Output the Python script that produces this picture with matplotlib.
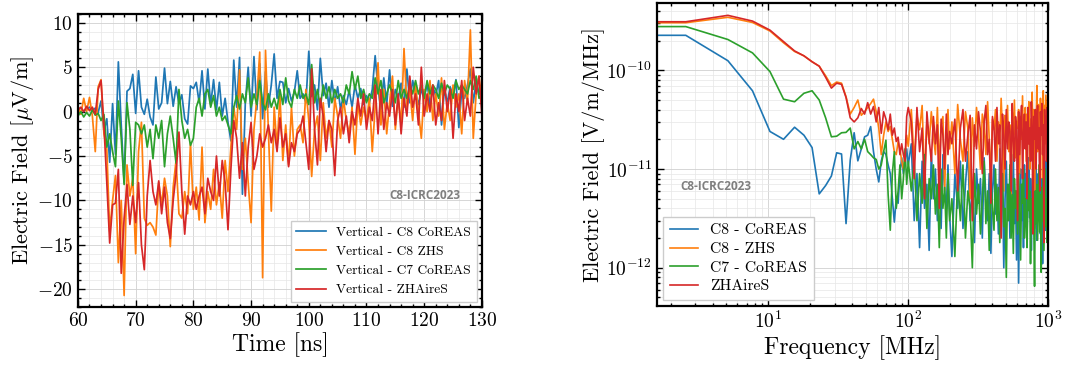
import numpy as np
import matplotlib
matplotlib.use("Agg")
import matplotlib.pyplot as plt
from matplotlib.ticker import MultipleLocator, LogLocator, NullFormatter

plt.rcParams.update({
    "font.family": "serif",
    "font.serif": ["cmr10"],
    "mathtext.fontset": "cm",
    "axes.formatter.use_mathtext": True,
    "axes.unicode_minus": True,
})

COLORS = ["#1f77b4", "#ff7f0e", "#2ca02c", "#d62728"]

# ---- time domain, 0.5 ns sampling from 60 to 130 ns ----
time_ns = np.arange(60.0, 130.01, 0.5)

vert_c8_coreas = [
    0.2, 0.4, 0.0, 0.3, 0.5, 0.1, 0.4, -0.1, 1.2, -2.2,
    -0.8, -5.7, 0.9, -4.8, 5.6, -1.5, -8.0, 2.3, 2.6, 4.2,
    -0.2, 4.6, 0.5, -0.3, 1.4, -0.6, -1.5, 3.9, 0.3, 1.0,
    4.9, 0.9, 3.4, 0.6, 2.8, 0.9, 1.9, -0.8, -1.4, 2.9,
    2.6, 3.3, 1.0, 4.6, 0.3, 4.8, 0.8, 3.6, 0.2, 3.3,
    -0.5, 1.5, -1.2, -3.3, 5.8, 0.5, 6.1, -9.3, 1.0, 5.0,
    -0.5, 6.2, 0.2, 5.4, -0.8, 4.5, 0.5, 3.0, 6.5, 1.5,
    3.4, 3.3, 1.0, 2.6, 1.2, 2.2, 4.6, 1.5, 2.0, 1.0,
    6.8, 1.7, 3.0, 0.2, 6.0, 1.8, 3.2, 0.5, 3.5, 1.0,
    2.8, 0.3, 1.8, 0.8, 2.4, 0.5, 3.0, 1.5, 2.6, 0.8,
    1.8, 1.0, 2.5, 6.3, 2.5, 0.3, 3.8, 0.8, 4.7, 0.6,
    2.5, 1.5, 3.2, 0.5, 4.8, 1.0, 3.5, 2.0, 0.8, 2.5,
    1.5, 3.2, 0.8, 2.8, 1.8, 3.5, -1.5, 2.5, 1.0, 2.8,
    1.8, 3.6, -1.8, 2.4, 1.5, 3.0, 4.8, 1.0, 3.4, 2.0,
    3.0,
]
vert_c8_zhs = [
    0.6, -0.3, 1.5, 0.0, 1.6, -0.5, -4.5, 2.8, 3.6, -2.5,
    -4.2, -13.5, -10.0, -7.2, -17.0, -10.0, -20.7, -6.0, -9.5, -7.5,
    -16.0, -4.5, -1.2, -12.0, -12.8, -12.5, -13.0, -13.9, -8.0, -10.5,
    -7.5, -9.5, -15.2, -8.5, -5.5, -11.5, -12.0, -9.0, -11.5, -3.5,
    -11.0, -8.5, -12.2, -4.0, -12.5, -9.0, -11.0, -6.5, -10.5, -8.0,
    -12.0, -5.5, -9.0, -4.0, 0.5, -2.0, 4.7, -6.5, -3.0, -8.0,
    -12.5, -2.0, 1.5, 6.7, -18.7, 6.9, -2.0, -11.2, 0.5, -4.0,
    1.8, -5.5, -1.5, -6.0, 0.5, -5.0, -2.0, -1.5, -3.5, 2.5,
    -1.0, -7.3, -2.0, -0.5, -5.5, 1.0, -3.0, -1.0, -4.0, 1.5,
    -0.5, -3.0, 1.5, -1.0, -2.5, 0.5, -4.8, 1.0, -1.5, 0.5,
    -1.0, 1.5, -4.5, 0.5, 5.5, -1.5, 2.5, -2.5, 1.0, 4.0,
    -2.0, 1.5, -1.5, 7.1, 0.5, 2.5, -1.0, 3.0, 0.0, -3.0,
    2.5, 0.0, 3.5, -1.0, 2.0, -0.5, 3.8, -2.0, 1.0, -1.0,
    3.0, 0.5, 2.0, -2.5, 3.5, 1.0, 9.2, -3.0, 2.0, 4.0,
    1.0,
]
vert_c7_coreas = [
    -0.5, 0.0, -0.6, -0.1, -0.5, 0.2, -0.4, -0.2, -1.0, -0.3,
    -4.0, -2.5, -4.5, -6.2, 1.2, -3.0, -8.2, 1.0, -2.0, -8.3,
    -1.2, -1.5, -2.5, -1.5, -4.0, -2.0, -5.3, -1.5, -3.0, -1.0,
    -6.2, -2.5, -0.5, -3.0, -5.8, 2.5, -1.0, -3.0, -2.0, -3.8,
    -3.0, 0.5, 1.5, -0.5, 2.0, 2.5, 0.5, 1.8, -0.5, 0.5,
    -1.0, -0.5, -1.5, -2.5, 0.5, 1.8, 0.3, 2.0, 1.0, 3.8,
    0.5, 2.0, 0.8, 3.5, 1.0, 0.2, 2.0, 0.5, 1.5, 0.3,
    2.5, 0.8, 3.8, 1.2, 0.5, 2.5, 1.5, 3.0, 1.5, 2.0,
    0.8, 5.3, 1.0, 2.5, 0.5, 3.0, 1.5, 2.8, 1.0, 2.5,
    1.5, 2.0, 1.0, 3.0, 2.0, 4.5, 2.5, 4.0, 1.5, 2.5,
    1.0, 2.0, 1.5, 3.8, 2.0, 3.5, 1.0, 2.0, 3.0, 2.0,
    1.0, 3.5, 1.5, 2.5, 1.5, 3.0, 2.0, 3.5, 2.0, 3.0,
    1.5, 3.5, 2.0, 3.0, 2.5, 1.5, 3.2, 2.0, 3.0, 2.5,
    1.5, 3.5, 2.5, 3.0, 2.5, 2.0, 3.5, 2.5, 4.0, 1.5,
    2.0,
]
vert_zhaires = [
    0.2, 0.5, 0.0, 0.6, 0.1, 0.5, -0.3, 2.5, 3.5, -1.5,
    -8.0, -14.8, -10.5, -10.3, -6.5, -18.2, -12.0, -8.2, -12.7, -9.5,
    -12.5, -8.0, -15.0, -17.8, -9.5, -5.5, -9.0, -10.5, -7.8, -11.5,
    -8.5, -12.5, -14.3, -10.0, -7.0, -2.3, -9.0, -13.8, -9.5, -10.5,
    -9.0, -11.0, -9.5, -8.5, -11.5, -7.5, -9.0, -10.0, -5.0, -9.5,
    -5.5, -8.0, -13.3, -6.5, -1.0, -3.0, -7.5, -3.5, -9.5, -4.0,
    -1.2, -6.5, -5.0, -2.5, -4.0, -3.0, -1.5, -3.5, -2.0, -4.5,
    -0.7, -4.0, -2.5, -6.2, -3.5, -4.5, -2.5, -2.0, -0.5, -3.5,
    -6.5, 4.8, -2.0, -6.0, 1.5, -0.5, -4.5, -1.0, -2.0, -7.2,
    -1.0, 0.5, -2.5, -0.5, -3.5, 0.0, -1.5, 1.5, -0.5, 2.0,
    -2.0, 0.5, -1.0, 3.0, -2.5, 2.5, -2.0, 1.0, -0.5, 2.5,
    -1.5, 2.0, -2.5, 1.5, -0.5, 4.0, 0.5, 2.0, -1.5, 5.0,
    -0.5, 2.0, 0.0, 3.0, -1.5, 1.0, -1.0, 3.5, 0.0, 2.5,
    -3.0, 2.0, 0.0, 3.5, -1.0, 1.5, -0.5, 5.0, 2.0, 4.0,
    -0.5,
]
time_labels = ["Vertical - C8 CoREAS", "Vertical - C8 ZHS",
               "Vertical - C7 CoREAS", "Vertical - ZHAireS"]

# ---- frequency domain (values in 1e-12 V/m/MHz) ----
df = 2.57  # MHz bin width
freq_mhz = np.concatenate([
    [1.6],
    df * np.arange(1, 40),          # 2.6 .. 100 MHz, every bin
    df * np.arange(41, 78, 2),      # 105 .. 198 MHz, every 2nd bin
    df * np.arange(80, 390, 4),     # 206 .. 997 MHz, every 4th bin
])

spec_c8_coreas = [
    226,
    226, 125, 62, 24, 20, 26.5, 22, 16.5, 5.6, 6.8,
    8.5, 14.6, 14.2, 2.8, 12.3, 23.3, 12.1, 16, 21.2, 22,
    26.9, 15, 10, 7.4, 12, 15, 14, 11, 9, 5,
    2.9, 5, 4.5, 9, 13, 9, 12, 16, 11,
    18, 3.0, 9, 1.6, 12, 4, 7, 1.5, 15, 5,
    10, 3, 8, 2.5, 14, 6, 4, 11, 3.5,
    1.3, 9, 4, 12, 2.5, 7, 15, 3, 6, 1.8,
    10, 4.5, 8, 2, 13, 5, 3, 9, 1.4, 6,
    11, 3.5, 7, 2.2, 16, 4, 8, 1.0, 5, 12,
    3, 7, 2, 9, 4.5, 14, 2.8, 6, 1.2, 8,
    0.7, 5, 10, 3, 7, 1.6, 11, 4, 9, 2.3,
    6, 13, 3.2, 8, 1.5, 5, 10, 2.6, 7, 4,
    12, 1.9, 6, 9, 3, 15, 2.2, 5.5, 8, 1.1,
    10, 3.8, 7, 2.4, 12, 4.5, 6, 9,
]
spec_c8_zhs = [
    303,
    303, 344, 305, 250, 190, 155, 140, 122, 110, 88,
    70, 76, 74, 54, 36, 42, 50, 35, 38, 42,
    46, 51, 38, 26, 14, 22, 30, 24, 27, 20,
    15, 14, 19, 16, 12, 10, 14, 22, 17,
    40, 12, 35, 25, 44, 8, 30, 18, 38, 22,
    14, 42, 10, 28, 34, 6, 24, 40, 16,
    30, 9, 45, 20, 12, 38, 26, 5, 33, 17,
    42, 22, 10, 36, 28, 14, 48, 20, 8, 32,
    25, 40, 12, 30, 18, 52, 24, 6, 35, 20,
    44, 15, 28, 3.5, 38, 22, 50, 13, 30, 26,
    40, 9, 34, 20, 55, 16, 28, 42, 12, 36,
    24, 48, 10, 32, 22, 60, 18, 40, 2.5, 34,
    26, 70, 15, 45, 30, 12, 52, 24, 38, 8,
    62, 28, 44, 18, 56, 34, 20, 48,
]
spec_c7_coreas = [
    277,
    277, 205, 150, 97, 51, 48, 58.5, 62, 50, 33,
    21.2, 21.5, 23.3, 23.5, 26, 16, 19, 16, 20, 15,
    14, 13, 12.5, 10, 11, 15, 19.6, 5.5, 2.4, 9,
    15, 4, 6, 11, 5, 8, 16, 7, 12,
    6, 12, 3, 9, 4.5, 14, 2.5, 8, 5, 11,
    3.5, 7, 1.6, 10, 4, 6.5, 2, 9, 3,
    5, 1.3, 8, 3, 11, 2, 6, 4, 1.0, 9,
    3.5, 7, 2.2, 5, 12, 2.8, 6, 1.5, 8, 4,
    2.4, 10, 3, 6.5, 1.8, 5, 9, 2.6, 4, 0.8,
    7, 3, 11, 2, 5.5, 1.4, 8, 4, 6, 2.2,
    9, 3.2, 1.2, 7, 4.5, 10, 2, 5, 3, 1.6,
    8, 3.8, 6, 1.1, 5, 2.5, 9, 3, 0.65, 6,
    2.8, 7, 1.9, 4.5, 11, 2.3, 5.5, 0.9, 6.5, 3,
    8, 1.5, 4, 10, 2.6, 5, 1.8, 7,
]
spec_zhaires = [
    310,
    310, 360, 315, 255, 195, 157, 140, 122, 110, 85,
    66, 74, 72, 53, 33, 30, 33, 41, 36, 47,
    36, 43, 30, 42, 23, 38, 32, 25, 36, 22,
    26, 19, 21, 14, 18, 14, 12, 34, 42,
    30, 8, 42, 15, 26, 5, 38, 20, 12, 34,
    18, 28, 4, 32, 22, 10, 36, 14, 24,
    18, 32, 6, 26, 40, 12, 22, 35, 3, 28,
    16, 38, 24, 9, 30, 44, 14, 20, 4.5, 34,
    26, 12, 42, 18, 28, 2, 36, 22, 10, 40,
    16, 30, 24, 6, 46, 20, 12, 34, 26, 3,
    38, 14, 28, 44, 8, 22, 36, 16, 30, 5,
    42, 18, 26, 12, 48, 24, 2.2, 34, 20, 40,
    10, 30, 44, 16, 26, 6, 38, 22, 46, 14,
    28, 1.8, 40, 20, 34, 12, 42, 24,
]
spec_labels = ["C8 - CoREAS", "C8 - ZHS", "C7 - CoREAS", "ZHAireS"]


def style_axes(ax):
    ax.tick_params(which="both", direction="in", top=True, right=True,
                   labelsize=14, width=1.0)
    ax.tick_params(which="major", length=5)
    ax.tick_params(which="minor", length=2.5)
    for s in ax.spines.values():
        s.set_linewidth(1.6)
    ax.grid(True, which="major", color="#d0d0d0", lw=0.6)
    ax.grid(True, which="minor", color="#e6e6e6", lw=0.5)
    ax.set_axisbelow(True)


def watermark(ax, x, y):
    ax.text(x, y, "C8-ICRC2023", transform=ax.transAxes, color="#7f7f7f",
            fontsize=8.5, fontweight="bold", family="Open Sans",
            ha="center", va="center")


fig = plt.figure(figsize=(10.65, 3.67), dpi=100)

# left: time traces
ax1 = fig.add_axes([0.0732, 0.1635, 0.3793, 0.7985])
for y, c, lab in zip([vert_c8_coreas, vert_c8_zhs, vert_c7_coreas, vert_zhaires],
                     COLORS, time_labels):
    ax1.plot(time_ns, y, color=c, lw=1.25, label=lab)
ax1.set_xlim(60, 130)
ax1.set_ylim(-22, 11)
ax1.xaxis.set_major_locator(MultipleLocator(10))
ax1.xaxis.set_minor_locator(MultipleLocator(2))
ax1.yaxis.set_major_locator(MultipleLocator(5))
ax1.yaxis.set_minor_locator(MultipleLocator(1))
style_axes(ax1)
ax1.set_xlabel("Time [ns]", fontsize=17, labelpad=2)
ax1.set_ylabel(r"Electric Field [$\mu$V/m]", fontsize=16, labelpad=1)
ax1.legend(loc="lower right", fontsize=9.7, handlelength=2.2,
           labelspacing=0.5, fancybox=False, edgecolor="#cccccc",
           framealpha=1.0, borderaxespad=0.4)
watermark(ax1, 0.859, 0.379)

# right: spectra
ax2 = fig.add_axes([0.6169, 0.1662, 0.3671, 0.8256])
for y, c, lab in zip([spec_c8_coreas, spec_c8_zhs, spec_c7_coreas, spec_zhaires],
                     COLORS, spec_labels):
    ax2.plot(freq_mhz, np.array(y) * 1e-12, color=c, lw=1.2, label=lab)
ax2.set_xscale("log")
ax2.set_yscale("log")
ax2.set_xticks([10, 100, 1000])
ax2.set_yticks([1e-12, 1e-11, 1e-10])
ax2.set_xlim(1.6, 1000)
ax2.set_ylim(4.1e-13, 4.8e-10)
ax2.yaxis.set_minor_locator(LogLocator(base=10, subs=np.arange(2, 10), numticks=20))
ax2.yaxis.set_minor_formatter(NullFormatter())
ax2.xaxis.set_minor_formatter(NullFormatter())
style_axes(ax2)
ax2.set_xlabel("Frequency [MHz]", fontsize=17, labelpad=2)
ax2.set_ylabel("Electric Field [V/m/MHz]", fontsize=16, labelpad=1)
ax2.legend(loc="lower left", fontsize=11.3, handlelength=1.8,
           labelspacing=0.3, fancybox=False, edgecolor="#cccccc",
           framealpha=1.0, borderaxespad=0.4)
watermark(ax2, 0.151, 0.393)

fig.savefig("out.png", dpi=100)
